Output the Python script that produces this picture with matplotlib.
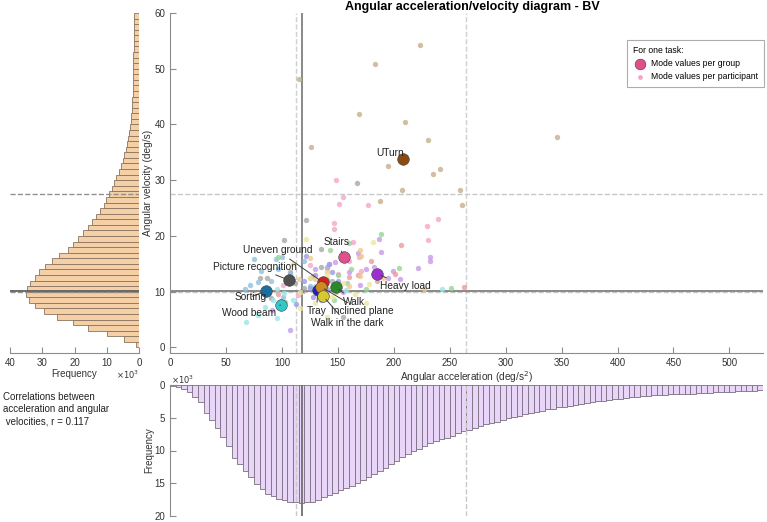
import numpy as np
import matplotlib.pyplot as plt

plt.rcParams['font.family'] = ['Liberation Sans', 'DejaVu Sans']
plt.rcParams['font.size'] = 7

# angular velocity histogram, 1 deg/s bins from 0 to 60 (x10^3)
vel_counts = [0.9, 4.6, 9.9, 15.8, 20.5, 25.5, 29.6, 32.2, 34.1, 35.1,
              34.6, 33.8, 32.3, 31.1, 29.1, 27.1, 24.9, 22.1, 20.5, 19.0,
              17.4, 15.8, 14.5, 13.2, 12.2, 11.0, 10.3, 9.3, 8.5, 7.7,
              7.0, 6.3, 5.7, 5.1, 4.6, 4.1, 3.8, 3.3, 3.0, 2.8,
              2.6, 2.4, 2.3, 2.2, 2.1, 2.0, 2.0, 1.9, 1.9, 1.9,
              1.8, 1.8, 1.8, 1.7, 1.7, 1.7, 1.7, 1.7, 1.6, 1.6]

# angular acceleration histogram, 5 deg/s2 bins from 0 to 530 (x10^3)
acc_counts = [0.15, 0.35, 0.66, 1.07, 1.8, 2.6, 4.2, 5.3, 6.6, 7.9,
              9.3, 11.2, 12.1, 13.1, 14.1, 15.1, 15.9, 16.6, 17.0, 17.4,
              17.6, 17.8, 17.9, 18.0, 17.9, 17.8, 17.5, 17.1, 16.8, 16.5,
              16.1, 15.8, 15.4, 15.0, 14.5, 14.1, 13.6, 13.2, 12.6, 12.1,
              11.6, 11.0, 10.6, 10.1, 9.7, 9.3, 8.9, 8.6, 8.3, 8.1,
              7.8, 7.4, 7.0, 6.8, 6.5, 6.3, 6.0, 5.8, 5.6, 5.4,
              5.1, 4.9, 4.7, 4.5, 4.3, 4.1, 3.9, 3.7, 3.6, 3.4,
              3.3, 3.2, 3.0, 2.9, 2.8, 2.6, 2.5, 2.4, 2.3, 2.2,
              2.1, 2.0, 1.9, 1.85, 1.75, 1.7, 1.6, 1.55, 1.5, 1.45,
              1.4, 1.35, 1.3, 1.3, 1.25, 1.2, 1.15, 1.1, 1.05, 1.0,
              1.0, 0.95, 0.9, 0.9, 0.85, 0.8]

tasks = ['UTurn', 'Stairs', 'Heavy load', 'Uneven ground', 'Picture recognition',
         'Sorting', 'Wood beam', 'Tray', 'Walk', 'Inclined plane', 'Walk in the dark']
group_acc = [207.8, 155.7, 185.1, 136.6, 106.0, 86.0, 98.8, 132.1, 148.2, 134.8, 136.9]
group_vel = [33.8, 16.3, 13.2, 11.7, 12.1, 10.1, 7.6, 10.3, 10.9, 10.9, 9.2]
group_colors = ['#8B4A14', '#E0508A', '#9B30D0', '#D42020', '#505050',
                '#1A6FA0', '#30C8C8', '#2020C0', '#2A8A2A', '#D08A20', '#D8C830']
part_colors = ['#C8AE8C', '#F4A6C8', '#C99AE8', '#EE9A9A', '#A8A8A8',
               '#8FC0E0', '#9AE6EA', '#9A9AEC', '#98D498', '#F0C890', '#EEE6A0']
# label anchor (left edge, centre) per task, same order as tasks
label_pos = [(184.6, 34.8), (137.5, 18.9), (188.1, 11.0), (64.9, 17.4), (38.1, 14.5),
             (58.0, 9.1), (46.2, 6.1), (122.1, 6.5), (154.7, 8.2), (143.5, 6.5), (125.6, 4.3)]

# mode values per participant
part_acc = {
    'UTurn': [115.4, 223.5, 183.6, 169, 210.4, 230.4, 125.9, 194.6, 241.3, 235.1, 207.1, 259.5, 345.8, 261.3, 187.5],
    'Stairs': [148.2, 154.7, 151, 177, 147, 147, 239.6, 229.8, 230.4, 163.7, 169, 125, 142, 160, 171, 150, 101.2, 114.6],
    'Heavy load': [232.1, 232, 221.7, 199.4, 206, 194.9, 167.6, 188.4, 187.2, 182, 175, 160, 170, 155, 107.1, 90.8, 130, 147.6],
    'Uneven ground': [206.3, 201, 262.5, 96.7, 160, 150, 140, 128, 168, 180, 99, 185],
    'Picture recognition': [167, 121.7, 101.5, 134.8, 86.3, 119.6, 90.5, 154.7, 107, 135, 125, 145, 80, 112],
    'Sorting': [75.3, 96.7, 81.3, 107, 78.9, 71.4, 67, 94.4, 101.2, 120, 90, 85, 140, 125, 100],
    'Wood beam': [84.8, 95.2, 78.9, 67.9, 243.4, 157.7, 95.2, 102, 130, 140, 110, 92],
    'Tray': [130, 128, 140, 145, 135, 120, 150, 142, 125, 113, 121.4],
    'Walk': [188.4, 160, 142.9, 96.7, 251.5, 204.7, 150, 158, 147, 162, 175, 102.7, 140],
    'Inclined plane': [169.6, 171, 140, 130, 160, 148, 135, 115.4, 226.8, 170, 125, 190],
    'Walk in the dark': [181, 121.4, 116, 116, 175, 139.9, 178, 130, 145, 155, 125, 140, 165, 110],
}
part_vel = {
    'UTurn': [48.2, 54.3, 50.9, 41.9, 40.4, 37.3, 36.0, 32.6, 32.1, 31.2, 28.3, 28.2, 37.8, 25.6, 26.2],
    'Stairs': [30.1, 26.9, 25.8, 25.6, 22.4, 21.3, 23.0, 21.8, 19.3, 18.9, 16.3, 14.8, 15.0, 15.5, 13.8, 13.2, 11.2, 9.4],
    'Heavy load': [16.2, 15.5, 14.2, 13.7, 12.3, 12.4, 17.0, 17.1, 19.4, 14.5, 14.0, 13.5, 11.2, 10.0, 3.1, 6.7, 14.0, 15.3],
    'Uneven ground': [18.4, 13.1, 10.9, 9.5, 12.6, 11.5, 14.2, 12.8, 13.0, 15.5, 8.3, 12.0],
    'Picture recognition': [29.5, 22.8, 19.2, 17.7, 12.4, 10.6, 8.8, 5.5, 13.5, 14.5, 12.5, 12.0, 12.5, 11.5],
    'Sorting': [15.9, 14.1, 13.8, 13.1, 11.8, 11.2, 10.5, 15.9, 9.1, 15.5, 12.0, 9.5, 14.5, 11.0, 16.2],
    'Wood beam': [7.2, 5.3, 5.8, 4.6, 10.5, 10.3, 10.4, 9.8, 11.0, 9.5, 8.5, 8.5],
    'Tray': [13.0, 9.0, 10.5, 13.5, 8.5, 12.0, 12.0, 15.0, 10.6, 7.8, 16.4],
    'Walk': [20.4, 18.7, 17.5, 16.3, 10.7, 14.3, 13.0, 11.5, 8.5, 14.0, 10.5, 8.2, 12.2],
    'Inclined plane': [17.5, 16.4, 13.5, 12.2, 11.0, 10.0, 9.5, 12.2, 10.4, 12.8, 16.0, 12.5],
    'Walk in the dark': [18.9, 19.4, 10.0, 7.0, 7.9, 5.5, 11.3, 8.0, 9.0, 11.5, 12.5, 13.0, 9.5, 15.0],
}

mode_acc, mean_acc, p90_acc = 118.1, 112.5, 265.0
mode_vel, mean_vel, p90_vel = 10.1, 9.9, 27.6

spine_c = '#8c8c8c'
W, H = 767, 522
fig = plt.figure(figsize=(W / 100, H / 100), dpi=100)


def rect(x0, y0, x1, y1):
    return [x0 / W, 1 - y1 / H, (x1 - x0) / W, (y1 - y0) / H]


ax = fig.add_axes(rect(170, 13, 763, 353))
axl = fig.add_axes(rect(10, 13, 139, 353))
axb = fig.add_axes(rect(170, 385, 763, 516))

for a in (ax, axl, axb):
    for s in a.spines.values():
        s.set_color(spine_c)
    a.tick_params(direction='in', color=spine_c, labelcolor='#333333', labelsize=7, length=4)

# main scatter
ax.set_xlim(0, 530)
ax.set_ylim(-1, 60)
ax.spines['top'].set_visible(False)
ax.spines['right'].set_visible(False)
ax.set_xticks(np.arange(0, 501, 50))
ax.set_yticks(np.arange(0, 61, 10))
ax.axvline(mean_acc, color='#d0d0d0', ls='--', lw=1, zorder=1)
ax.axvline(p90_acc, color='#d0d0d0', ls='--', lw=1, zorder=1)
ax.axhline(mean_vel, color='#c8c8c8', ls='--', lw=1, zorder=1)
ax.axhline(p90_vel, color='#c8c8c8', ls='--', lw=1, zorder=1)
ax.axvline(mode_acc, color='#808080', lw=1.3, zorder=1)
ax.axhline(mode_vel, color='#808080', lw=1.3, zorder=1)
ax.plot(mode_acc, mode_vel, 'x', color='#707070', ms=3, mew=0.8, zorder=2)

for t, pc in zip(tasks, part_colors):
    ax.scatter(part_acc[t], part_vel[t], s=15, color=pc, alpha=0.8, lw=0, zorder=3)

for t, xa, yv, gc in zip(tasks, group_acc, group_vel, group_colors):
    ax.scatter(xa, yv, s=70, color=gc, edgecolor='#404040', lw=0.4, zorder=5)

for t, xa, yv, (tx, ty) in zip(tasks, group_acc, group_vel, label_pos):
    arrow = None if t == 'UTurn' else dict(arrowstyle='-', color='#404040', lw=0.7,
                                           shrinkA=1, shrinkB=3)
    ax.annotate(t, xy=(xa, yv), xytext=(tx, ty), textcoords='data',
                ha='left', va='center', fontsize=7.3, color='#222222',
                arrowprops=arrow, zorder=6)

ax.set_xlabel('Angular acceleration (deg/s$^2$)', fontsize=7.3, color='#333333', labelpad=1)
ax.set_ylabel('Angular velocity (deg/s)', fontsize=7.3, color='#333333', labelpad=1)
fig.text(472 / W, 1 - 7 / H, 'Angular acceleration/velocity diagram - BV',
         fontsize=9, fontweight='bold', ha='center', va='center')

hg = ax.scatter([], [], s=60, color='#E0508A', edgecolor='#404040', lw=0.4)
hp = ax.scatter([], [], s=12, color='#F4A6C8', lw=0)
leg = ax.legend([hg, hp], ['Mode values per group', 'Mode values per participant'],
                title='For one task:', loc='upper right', bbox_to_anchor=(1.002, 0.92),
                borderaxespad=0, fontsize=6.2, title_fontsize=6.2, frameon=True,
                fancybox=False, edgecolor='#999999', borderpad=0.7, handletextpad=0.5,
                labelspacing=0.45, handlelength=1.6)
leg.get_frame().set_linewidth(0.8)
leg._legend_box.align = 'left'

# left histogram (velocity)
vel_edges = np.arange(0, 60, 1)
axl.barh(vel_edges, vel_counts, height=1, align='edge', color='#F5CFA5',
         edgecolor='#8a7560', lw=0.6)
axl.set_xlim(40, 0)
axl.set_ylim(-1, 60)
axl.set_yticks([])
axl.set_xticks([40, 30, 20, 10, 0])
for s in ('top', 'left', 'right'):
    axl.spines[s].set_visible(False)
axl.axhline(mean_vel, color='#909090', ls='--', lw=1)
axl.axhline(p90_vel, color='#909090', ls='--', lw=1)
axl.axhline(mode_vel, color='#606060', lw=1.3)
axl.set_xlabel('Frequency', fontsize=7, color='#333333', labelpad=1)
fig.text(116 / W, 1 - 375 / H, r'$\times10^3$', fontsize=6, color='#333333', va='center')

# bottom histogram (acceleration)
acc_edges = np.arange(0, 530, 5)
axb.bar(acc_edges, acc_counts, width=5, align='edge', color='#E8D5F8',
        edgecolor='#7a6f80', lw=0.6)
axb.set_xlim(0, 530)
axb.set_ylim(20, 0)
axb.set_xticks([])
axb.set_yticks([0, 5, 10, 15, 20])
for s in ('top', 'bottom', 'right'):
    axb.spines[s].set_visible(False)
axb.axvline(mean_acc, color='#c8c8c8', ls='--', lw=1)
axb.axvline(p90_acc, color='#c8c8c8', ls='--', lw=1)
axb.axvline(mode_acc, color='#707070', lw=1.3)
axb.set_ylabel('Frequency', fontsize=7, color='#333333', labelpad=0)
fig.text(171 / W, 1 - 380 / H, r'$\times10^3$', fontsize=6, color='#333333', va='center')

fig.text(3 / W, 1 - 392 / H,
         'Correlations between\nacceleration and angular\n velocities, r = 0.117',
         fontsize=7, color='#222222', va='top', ha='left', linespacing=1.3)

fig.savefig('out.png', dpi=100)
